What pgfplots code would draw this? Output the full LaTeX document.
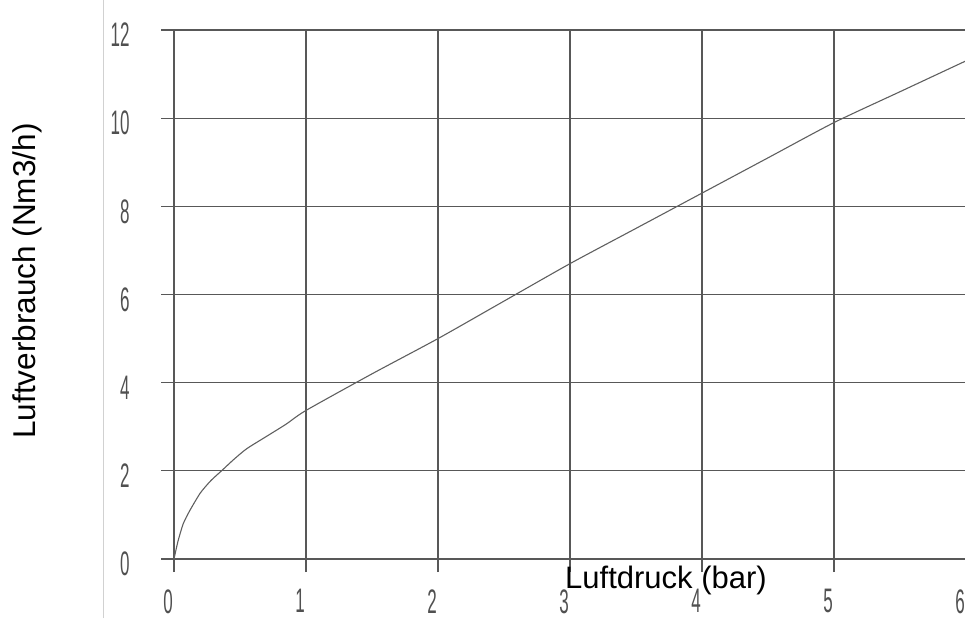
\documentclass[border=0pt]{standalone}
\usepackage{pgfplots}
\pgfplotsset{compat=1.18}
\usepackage{fontspec}
\setmainfont{Liberation Sans}
\definecolor{gridc}{RGB}{88,88,88}
\definecolor{curvec}{RGB}{95,95,95}
\definecolor{tickc}{RGB}{80,80,80}
\begin{document}
\begin{tikzpicture}[x=1pt,y=1pt]
\path[use as bounding box] (0,0) rectangle (965,618);
\clip (0,0) rectangle (965,618);
\draw[black!18, line width=0.8pt] (103,0) -- (103,618);
\begin{axis}[
  at={(174pt,59pt)}, anchor=south west,
  scale only axis, width=792pt, height=529pt,
  xmin=0, xmax=6, ymin=0, ymax=12,
  xtick={0,1,2,3,4,5,6}, ytick={0,2,4,6,8,10,12},
  grid=major,
  grid style={gridc, line width=1.3pt},
  axis line style={gridc, line width=1.3pt},
  tick style={gridc, line width=1.3pt},
  tick align=outside, major tick length=13pt,
  xtick pos=left, ytick pos=left,
  /pgf/number format/assume math mode=true,
  ticklabel style={font=\fontsize{34}{34}\selectfont, text=tickc},
  xticklabel={\scalebox{0.5}[1]{\pgfmathprintnumber{\tick}}},
  yticklabel={\scalebox{0.5}[1]{\pgfmathprintnumber{\tick}}},
  xticklabel style={xshift=-6pt, yshift=-14pt},
  yticklabel style={xshift=-28pt, yshift=-5pt},
  clip=false,
]
\addplot[curvec, line width=1.1pt, smooth, tension=0.4] coordinates {
(0,0) (0.03,0.4) (0.07,0.8) (0.12,1.1) (0.2,1.5) (0.28,1.78) (0.36,2.0)
(0.45,2.25) (0.55,2.5) (0.7,2.78) (0.85,3.06) (1.0,3.37)
(1.5,4.2) (2.0,5.0) (2.5,5.85) (3.0,6.7) (3.5,7.5) (4.0,8.3)
(4.5,9.1) (5.0,9.9) (5.5,10.6) (6.0,11.3)};
\end{axis}
\node[rotate=90, anchor=base, font=\fontsize{31.5}{31.5}\selectfont] at (35,337) {Luftverbrauch (Nm3/h)};
\node[anchor=base, font=\fontsize{31}{31}\selectfont] at (666,30) {Luftdruck (bar)};
\end{tikzpicture}
\end{document}
